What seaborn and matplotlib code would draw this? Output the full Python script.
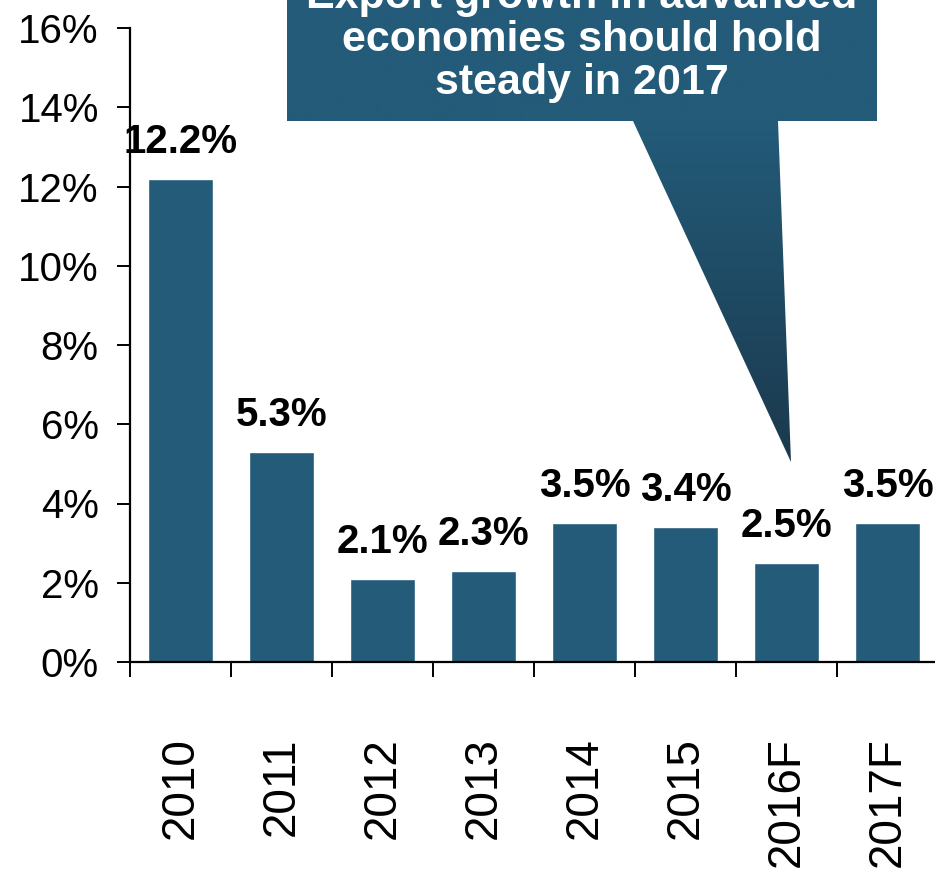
import numpy as np
import pandas as pd
import matplotlib
matplotlib.use("Agg")
import matplotlib.pyplot as plt
from matplotlib.path import Path
from matplotlib.patches import PathPatch
from matplotlib.ticker import FuncFormatter, FixedLocator
import seaborn as sns

years = ["2010", "2011", "2012", "2013", "2014", "2015", "2016F", "2017F"]
growth = [12.2, 5.3, 2.1, 2.3, 3.5, 3.4, 2.5, 3.5]
callout_lines = ["Export growth in advanced", "economies should hold", "steady in 2017"]

BAR = "#235B79"
DARK = "#1B394D"

sns.set_theme(style="white")
plt.rcParams["font.family"] = ["Liberation Sans", "DejaVu Sans"]

W, H = 935, 873
fig = plt.figure(figsize=(W / 100, H / 100), dpi=100)
ax = fig.add_axes([130 / W, (H - 662) / H, 808 / W, 634 / H])

df = pd.DataFrame({"year": years, "growth": growth})
sns.barplot(data=df, x="year", y="growth", color=BAR, saturation=1,
            width=0.64, ax=ax)

ax.set_ylim(0, 16)
ax.set_xlim(-0.5, len(years) - 0.5)
ax.set_yticks(np.arange(0, 17, 2))
ax.yaxis.set_major_formatter(FuncFormatter(lambda v, _: f"{v:.0f}%"))
ax.set_xlabel("")
ax.set_ylabel("")

for side in ("top", "right"):
    ax.spines[side].set_visible(False)
for side in ("left", "bottom"):
    ax.spines[side].set_color("black")
    ax.spines[side].set_linewidth(1.6)

ax.tick_params(axis="y", which="major", direction="out", length=9.5, width=1.4,
               color="black", pad=13, labelsize=29, labelcolor="black", left=True)
ax.tick_params(axis="x", which="major", length=0, pad=54, labelsize=33,
               labelcolor="black", labelrotation=90, bottom=True)
ax.xaxis.set_minor_locator(FixedLocator(np.arange(-0.5, len(years), 1.0)))
ax.tick_params(axis="x", which="minor", direction="out", length=11, width=1.4,
               color="black", bottom=True)
for lbl in ax.get_xticklabels():
    lbl.set_verticalalignment("top")

ax.bar_label(ax.containers[0], labels=[f"{v:.1f}%" for v in growth],
             padding=13, fontsize=29, fontweight="bold", color="black")

# Callout box with a pointer, filled with a vertical gradient
ov = fig.add_axes([0, 0, 1, 1], zorder=5)
ov.set_xlim(0, W)
ov.set_ylim(H, 0)
ov.axis("off")
ov.patch.set_alpha(0)

box_l, box_r, box_b = 287, 877, 121
tip = (791, 462)
verts = [(box_l, -20), (box_r, -20), (box_r, box_b), (778, box_b), tip,
         (633, box_b), (box_l, box_b), (box_l, -20)]
codes = [Path.MOVETO] + [Path.LINETO] * (len(verts) - 2) + [Path.CLOSEPOLY]
shape = PathPatch(Path(verts, codes), facecolor="none", edgecolor="none")
ov.add_patch(shape)

top_rgb = np.array(matplotlib.colors.to_rgb(BAR))
bot_rgb = np.array(matplotlib.colors.to_rgb(DARK))
ys = np.linspace(-20, 470, 500)
t = np.clip((ys - box_b) / (tip[1] - box_b), 0, 1)[:, None]
grad = (top_rgb * (1 - t) + bot_rgb * t)[:, None, :]
img = ov.imshow(grad, extent=(280, 890, 470, -20), aspect="auto",
                interpolation="bilinear", zorder=1)
img.set_clip_path(shape)

for y, line in zip([8, 51, 94], callout_lines):
    ov.text(582, y, line, ha="center", va="baseline", color="white",
            fontsize=31, fontweight="bold", zorder=3)

fig.savefig("out.png", dpi=100)
